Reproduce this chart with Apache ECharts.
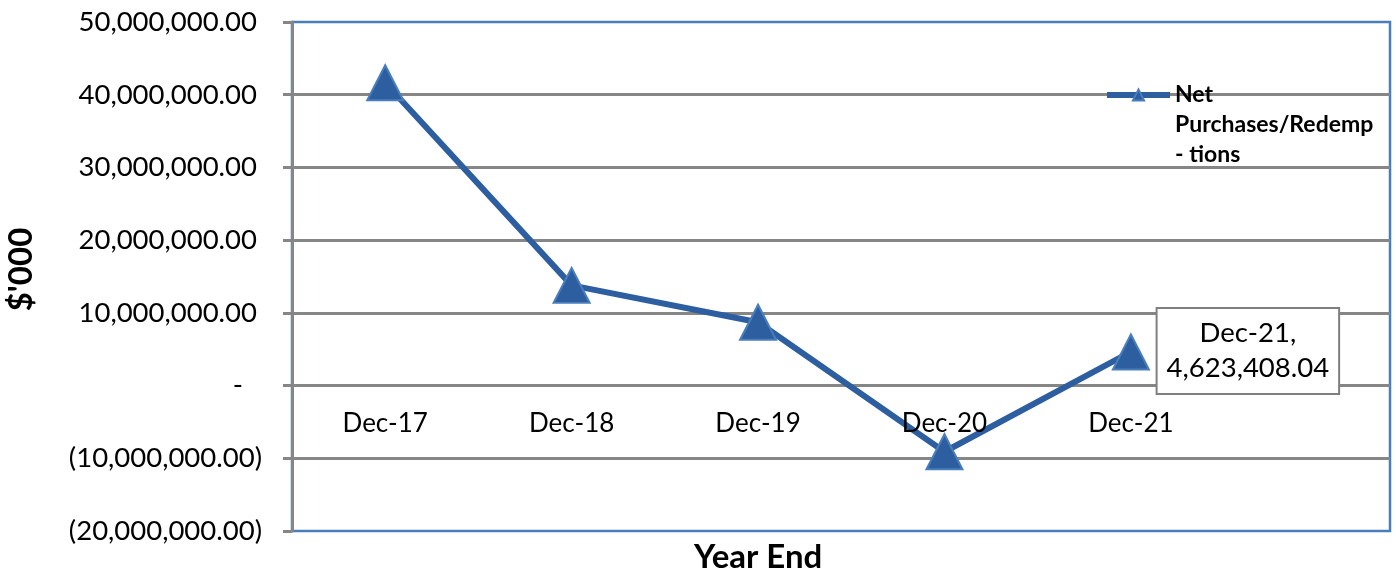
<!DOCTYPE html>
<html>
<head>
<meta charset="utf-8">
<title>Net Purchases/Redemptions</title>
<script src="https://cdn.jsdelivr.net/npm/echarts@6/dist/echarts.min.js"></script>
<style>
  html, body { margin: 0; padding: 0; background: #fff; }
  #chart { width: 1396px; height: 573px; }
</style>
</head>
<body>
<div id="chart"></div>
<script>
// Year-end categories and net purchases/redemptions ($'000)
const categories = ['Dec-17', 'Dec-18', 'Dec-19', 'Dec-20', 'Dec-21'];
const netFlows = [41650000, 13780000, 8700000, -9100000, 4623408.04];
const seriesName = 'Net Purchases/Redemptions';
// Legend wording as wrapped in the legend box; leading blank lines put "Net" level with the icon
const legendText = '\n\nNet\nPurchases/Redemp\n- tions';
const labelledIndex = 4;

const yMin = -20000000;
const yMax = 50000000;
const yStep = 10000000;

const FONT = 'Lato, "Open Sans", sans-serif';
const LINE_BLUE = '#2C5EA0';
const BORDER_BLUE = '#4A7EBB';
const GRID_GREY = '#868686';

const GRID = { left: 292, right: 6, top: 22, bottom: 42 };
const CHART_H = 573;
// distance from the bottom of the plot up to the zero line, so the category row sits on zero
const plotH = CHART_H - GRID.top - GRID.bottom;
const zeroRise = plotH * (0 - yMin) / (yMax - yMin);

function money(v) {
  return Math.abs(v).toLocaleString('en-US', { minimumFractionDigits: 2, maximumFractionDigits: 2 });
}

// Accounting style: negatives in parentheses, zero as a dash
function axisMoney(v) {
  if (v === 0) return '{z|-}';
  if (v < 0) return '{n|(' + money(v) + ')}';
  return '{p|' + money(v) + '}';
}

const chart = echarts.init(document.getElementById('chart'), null, { renderer: 'canvas' });

const seriesData = netFlows.map((v, i) => {
  const item = { value: [i, v] };
  if (i === labelledIndex) {
    item.label = {
      show: true,
      position: [136, 17.5],
      align: 'center',
      verticalAlign: 'middle',
      formatter: (p) => categories[p.dataIndex] + ',\n' + money(p.value[1]),
      fontFamily: FONT,
      fontSize: 27.5,
      lineHeight: 35,
      color: '#000',
      backgroundColor: '#fff',
      borderColor: '#7F7F7F',
      borderWidth: 2,
      padding: [7, 9, 7, 9]
    };
  }
  return item;
});

chart.setOption({
  animation: false,
  backgroundColor: '#fff',
  textStyle: { fontFamily: FONT },
  grid: {
    left: GRID.left,
    right: GRID.right,
    top: GRID.top,
    bottom: GRID.bottom,
    outerBoundsMode: 'none',
    containLabel: false,
    show: true,
    backgroundColor: 'transparent',
    borderColor: BORDER_BLUE,
    borderWidth: 2.5
  },
  title: {
    text: 'Year End',
    left: 694,
    top: 541,
    padding: 0,
    textStyle: { fontFamily: FONT, fontSize: 33, fontWeight: 'bold', color: '#000' }
  },
  legend: {
    show: true,
    left: 1104,
    top: 20,
    padding: 0,
    orient: 'vertical',
    itemWidth: 63,
    itemHeight: 14,
    itemGap: 0,
    formatter: () => legendText,
    lineStyle: { width: 6 },
    textStyle: {
      fontFamily: FONT,
      fontSize: 23,
      fontWeight: 'bold',
      color: '#000',
      lineHeight: 30
    },
    data: [seriesName]
  },
  xAxis: {
    type: 'value',
    min: -0.5,
    max: 5.39,
    z: 5,
    position: 'bottom',
    offset: -zeroRise,
    axisLine: { show: false, onZero: false },
    axisTick: { show: false },
    splitLine: { show: false },
    axisLabel: {
      customValues: categories.map((c, i) => i),
      formatter: (v) => categories[Math.round(v)] || '',
      margin: 25,
      fontFamily: FONT,
      fontSize: 26,
      color: '#000'
    }
  },
  yAxis: {
    type: 'value',
    min: yMin,
    max: yMax,
    interval: yStep,
    name: "$'000",
    nameLocation: 'middle',
    nameRotate: 90,
    nameGap: 254,
    nameTextStyle: { fontFamily: FONT, fontSize: 33, fontWeight: 'bold', color: '#000', padding: [0, 0, 0, 14] },
    axisLine: { show: true, onZero: false, lineStyle: { color: GRID_GREY, width: 3 } },
    axisTick: { show: true, length: 9, lineStyle: { color: GRID_GREY, width: 3 } },
    splitLine: {
      show: true,
      showMinLine: false,
      showMaxLine: false,
      lineStyle: { color: GRID_GREY, width: 3 }
    },
    axisLabel: {
      margin: 30,
      fontFamily: FONT,
      fontSize: 27.5,
      color: '#000',
      formatter: axisMoney,
      rich: {
        p: { padding: [0, 5, 0, 0] },
        z: { padding: [0, 19, 0, 0] },
        n: {}
      }
    }
  },
  series: [{
    name: seriesName,
    type: 'line',
    data: seriesData,
    symbol: 'triangle',
    symbolSize: [36, 35],
    lineStyle: { color: LINE_BLUE, width: 6 },
    itemStyle: { color: LINE_BLUE, borderColor: BORDER_BLUE, borderWidth: 2 },
    z: 3
  }]
});
</script>
</body>
</html>
